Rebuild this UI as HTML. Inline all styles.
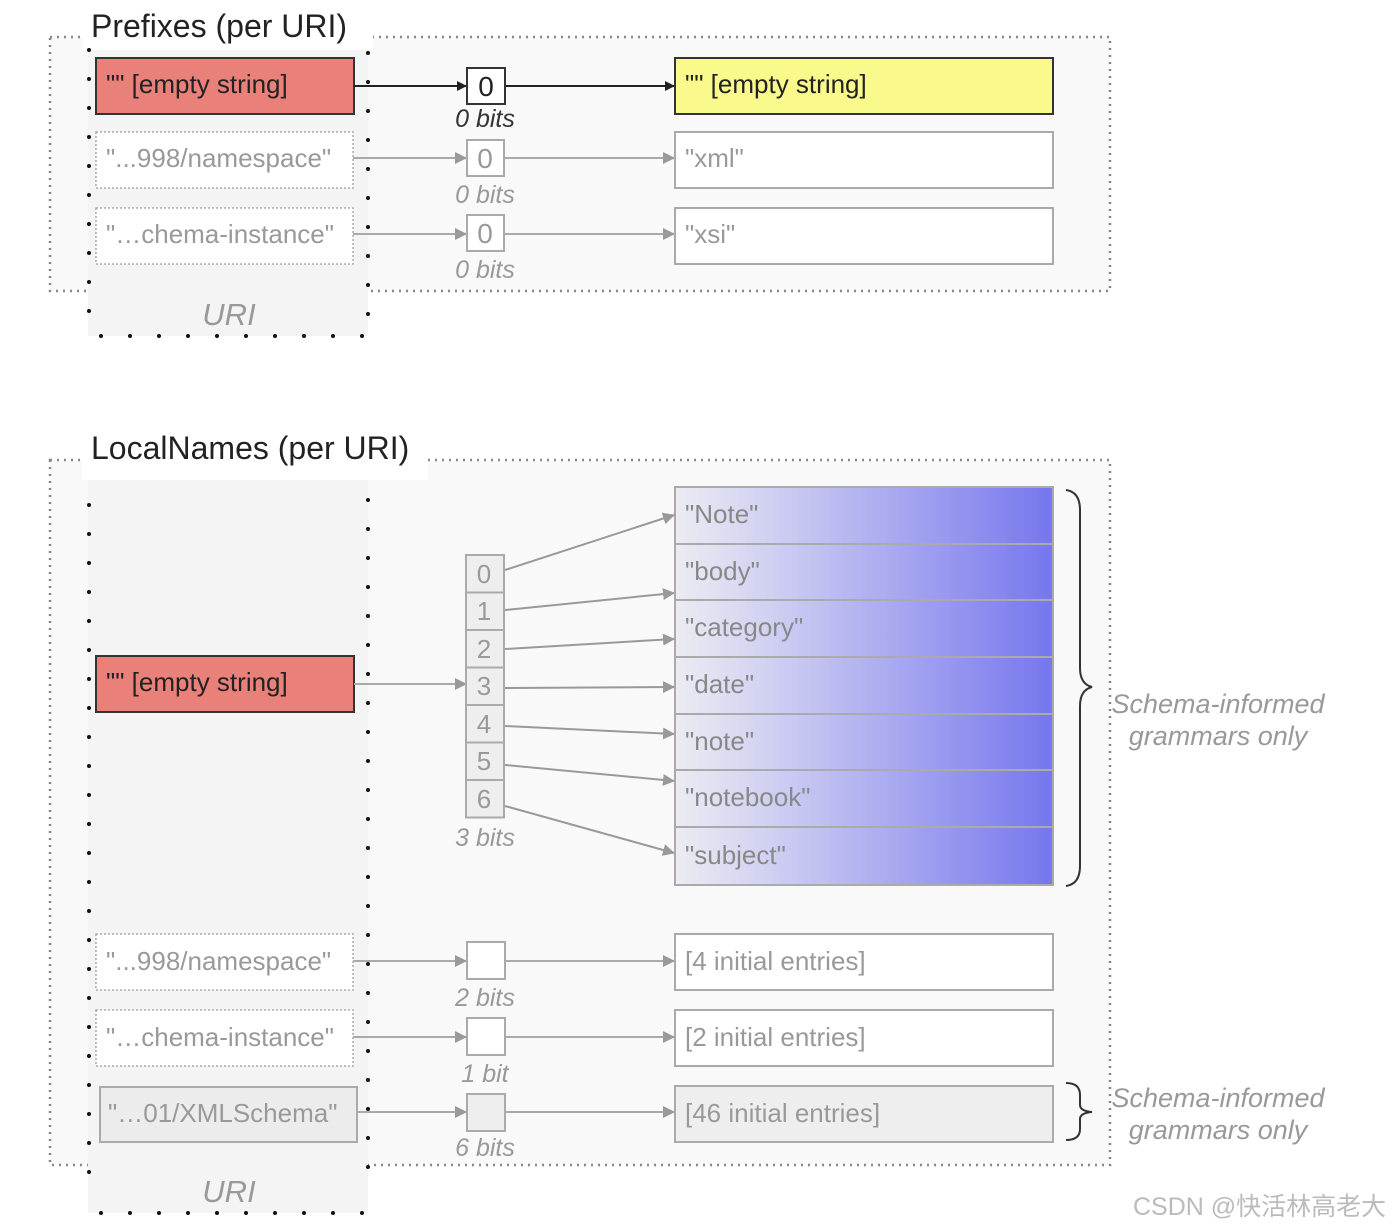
<!DOCTYPE html>
<html><head><meta charset="utf-8"><style>
html,body{margin:0;padding:0;background:#fff;}
svg{display:block;}
text{font-family:"Liberation Sans","Noto Sans CJK SC",sans-serif;}
</style></head><body>
<svg width="1397" height="1230" viewBox="0 0 1397 1230" xmlns="http://www.w3.org/2000/svg">
<defs>
<marker id="ab" markerWidth="10" markerHeight="10" refX="9" refY="5" orient="auto" markerUnits="userSpaceOnUse"><path d="M0,0 L10,5 L0,10 z" fill="#222"/></marker>
<marker id="ag" markerWidth="12" markerHeight="12" refX="11" refY="6" orient="auto" markerUnits="userSpaceOnUse"><path d="M0,0 L12,6 L0,12 z" fill="#999"/></marker>
<linearGradient id="bl" x1="0" x2="1" y1="0" y2="0">
<stop offset="0" stop-color="#ececf2"/><stop offset="0.25" stop-color="#d0d0f2"/><stop offset="1" stop-color="#7676ee"/></linearGradient>
</defs>

<!-- ===== Prefixes ===== -->
<rect x="50" y="37" width="1060" height="254" fill="#f9f9f9" stroke="#888" stroke-width="2.5" stroke-dasharray="2 5"/>
<rect x="83" y="8" width="290" height="42" fill="#fff"/>
<rect x="88" y="50" width="280" height="286" fill="#f4f4f4"/>
<text x="91" y="37" font-size="32" fill="#222">Prefixes (per URI)</text>
<line x1="89" y1="50" x2="89" y2="330" stroke="#111" stroke-width="4" stroke-linecap="round" stroke-dasharray="0 29"/>
<line x1="368" y1="53" x2="368" y2="325" stroke="#111" stroke-width="4" stroke-linecap="round" stroke-dasharray="0 29"/>
<line x1="101" y1="336" x2="365" y2="336" stroke="#111" stroke-width="4" stroke-linecap="round" stroke-dasharray="0 29"/>
<text x="229" y="325" font-size="31" font-style="italic" fill="#999" text-anchor="middle">URI</text>

<rect x="96" y="58" width="258" height="56" fill="#e98079" stroke="#333" stroke-width="2"/>
<text x="106" y="93" font-size="26" fill="#222">"" [empty string]</text>
<rect x="96" y="132" width="257" height="56" fill="#fff" stroke="#aaa" stroke-width="1.5" stroke-dasharray="2 2"/>
<text x="106" y="167" font-size="26" fill="#999">"...998/namespace"</text>
<rect x="96" y="208" width="257" height="56" fill="#fff" stroke="#aaa" stroke-width="1.5" stroke-dasharray="2 2"/>
<text x="106" y="243" font-size="26" fill="#999">"…chema-instance"</text>

<line x1="354" y1="86" x2="466" y2="86" stroke="#222" stroke-width="2" marker-end="url(#ab)"/>
<line x1="505" y1="86" x2="674" y2="86" stroke="#222" stroke-width="2" marker-end="url(#ab)"/>
<line x1="353" y1="158" x2="466" y2="158" stroke="#aaa" stroke-width="2" marker-end="url(#ag)"/>
<line x1="504" y1="158" x2="674" y2="158" stroke="#aaa" stroke-width="2" marker-end="url(#ag)"/>
<line x1="353" y1="234" x2="466" y2="234" stroke="#aaa" stroke-width="2" marker-end="url(#ag)"/>
<line x1="504" y1="234" x2="674" y2="234" stroke="#aaa" stroke-width="2" marker-end="url(#ag)"/>

<rect x="467" y="68" width="38" height="36" fill="#fff" stroke="#333" stroke-width="2"/>
<text x="486" y="96" font-size="28" fill="#222" text-anchor="middle">0</text>
<text x="485" y="127" font-size="25" font-style="italic" fill="#333" text-anchor="middle">0 bits</text>
<rect x="467" y="140" width="37" height="36" fill="#fff" stroke="#aaa" stroke-width="2"/>
<text x="485" y="168" font-size="28" fill="#999" text-anchor="middle">0</text>
<text x="485" y="203" font-size="25" font-style="italic" fill="#999" text-anchor="middle">0 bits</text>
<rect x="467" y="215" width="37" height="36" fill="#fff" stroke="#aaa" stroke-width="2"/>
<text x="485" y="243" font-size="28" fill="#999" text-anchor="middle">0</text>
<text x="485" y="278" font-size="25" font-style="italic" fill="#999" text-anchor="middle">0 bits</text>

<rect x="675" y="58" width="378" height="56" fill="#fafa8c" stroke="#333" stroke-width="2"/>
<text x="685" y="93" font-size="26" fill="#222">"" [empty string]</text>
<rect x="675" y="132" width="378" height="56" fill="#fff" stroke="#aaa" stroke-width="2"/>
<text x="685" y="167" font-size="26" fill="#999">"xml"</text>
<rect x="675" y="208" width="378" height="56" fill="#fff" stroke="#aaa" stroke-width="2"/>
<text x="685" y="243" font-size="26" fill="#999">"xsi"</text>

<!-- ===== LocalNames ===== -->
<rect x="50" y="460" width="1060" height="705" fill="#f9f9f9" stroke="#888" stroke-width="2.5" stroke-dasharray="2 5"/>
<rect x="82" y="428" width="346" height="52" fill="#fff"/>
<rect x="88" y="480" width="280" height="733" fill="#f4f4f4"/>
<text x="91" y="459" font-size="32" fill="#222">LocalNames (per URI)</text>
<line x1="89" y1="505" x2="89" y2="1200" stroke="#111" stroke-width="4" stroke-linecap="round" stroke-dasharray="0 29"/>
<line x1="368" y1="500" x2="368" y2="1195" stroke="#111" stroke-width="4" stroke-linecap="round" stroke-dasharray="0 29"/>
<line x1="101" y1="1213" x2="365" y2="1213" stroke="#111" stroke-width="4" stroke-linecap="round" stroke-dasharray="0 29"/>
<text x="229" y="1202" font-size="31" font-style="italic" fill="#999" text-anchor="middle">URI</text>

<rect x="96" y="656" width="258" height="56" fill="#e98079" stroke="#333" stroke-width="2"/>
<text x="106" y="691" font-size="26" fill="#222">"" [empty string]</text>
<line x1="354" y1="684" x2="466" y2="684" stroke="#aaa" stroke-width="2" marker-end="url(#ag)"/>

<g fill="#eee" stroke="#aaa" stroke-width="2">
<rect x="466" y="555" width="38" height="37.5"/><rect x="466" y="592.5" width="38" height="37.5"/>
<rect x="466" y="630" width="38" height="37.5"/><rect x="466" y="667.5" width="38" height="37.5"/>
<rect x="466" y="705" width="38" height="37.5"/><rect x="466" y="742.5" width="38" height="37.5"/>
<rect x="466" y="780" width="38" height="37.5"/>
</g>
<g font-size="26" fill="#999" text-anchor="middle">
<text x="484" y="583">0</text><text x="484" y="620">1</text><text x="484" y="658">2</text>
<text x="484" y="695">3</text><text x="484" y="733">4</text><text x="484" y="770">5</text><text x="484" y="808">6</text>
</g>
<text x="485" y="846" font-size="25" font-style="italic" fill="#999" text-anchor="middle">3 bits</text>

<rect x="675" y="487" width="378" height="398" fill="url(#bl)"/>
<g fill="none" stroke="#aaa" stroke-width="2">
<rect x="675" y="487" width="378" height="57"/><rect x="675" y="544" width="378" height="56"/>
<rect x="675" y="600" width="378" height="57"/><rect x="675" y="657" width="378" height="57"/>
<rect x="675" y="714" width="378" height="56"/><rect x="675" y="770" width="378" height="57"/>
<rect x="675" y="827" width="378" height="58"/>
</g>
<g font-size="26" fill="#888">
<text x="685" y="523">"Note"</text><text x="685" y="580">"body"</text><text x="685" y="636">"category"</text>
<text x="685" y="693">"date"</text><text x="685" y="750">"note"</text><text x="685" y="806">"notebook"</text>
<text x="685" y="864">"subject"</text>
</g>
<g stroke="#999" stroke-width="2" marker-end="url(#ag)">
<line x1="505" y1="570" x2="674" y2="515"/>
<line x1="505" y1="610" x2="674" y2="593"/>
<line x1="505" y1="649" x2="674" y2="639"/>
<line x1="505" y1="688" x2="674" y2="687"/>
<line x1="505" y1="726" x2="674" y2="734"/>
<line x1="505" y1="765" x2="674" y2="781"/>
<line x1="505" y1="806" x2="674" y2="853"/>
</g>
<path d="M1066,490 Q1080,492 1080,510 L1080,668 Q1080,684 1092,687 Q1080,690 1080,706 L1080,866 Q1080,884 1066,886" fill="none" stroke="#333" stroke-width="2"/>
<g font-size="27" font-style="italic" fill="#999" text-anchor="middle">
<text x="1218" y="713">Schema-informed</text><text x="1218" y="745">grammars only</text>
<text x="1218" y="1107">Schema-informed</text><text x="1218" y="1139">grammars only</text>
</g>

<rect x="96" y="934" width="257" height="56" fill="#fff" stroke="#aaa" stroke-width="1.5" stroke-dasharray="2 2"/>
<text x="106" y="970" font-size="26" fill="#999">"...998/namespace"</text>
<rect x="96" y="1010" width="257" height="56" fill="#fff" stroke="#aaa" stroke-width="1.5" stroke-dasharray="2 2"/>
<text x="106" y="1046" font-size="26" fill="#999">"…chema-instance"</text>
<rect x="100" y="1087" width="257" height="55" fill="#ececec" stroke="#aaa" stroke-width="2"/>
<text x="108" y="1122" font-size="26" fill="#999">"…01/XMLSchema"</text>

<g stroke="#aaa" stroke-width="2" marker-end="url(#ag)">
<line x1="353" y1="961" x2="466" y2="961"/><line x1="505" y1="961" x2="674" y2="961"/>
<line x1="353" y1="1037" x2="466" y2="1037"/><line x1="505" y1="1037" x2="674" y2="1037"/>
<line x1="357" y1="1112" x2="466" y2="1112"/><line x1="505" y1="1112" x2="674" y2="1112"/>
</g>
<rect x="467" y="942" width="38" height="37" fill="#fff" stroke="#aaa" stroke-width="2"/>
<rect x="467" y="1018" width="38" height="37" fill="#fff" stroke="#aaa" stroke-width="2"/>
<rect x="467" y="1094" width="38" height="37" fill="#eee" stroke="#aaa" stroke-width="2"/>
<g font-size="25" font-style="italic" fill="#999" text-anchor="middle">
<text x="485" y="1006">2 bits</text><text x="485" y="1082">1 bit</text><text x="485" y="1156">6 bits</text>
</g>

<rect x="675" y="934" width="378" height="56" fill="#fff" stroke="#aaa" stroke-width="2"/>
<text x="685" y="970" font-size="26" fill="#999">[4 initial entries]</text>
<rect x="675" y="1010" width="378" height="56" fill="#fff" stroke="#aaa" stroke-width="2"/>
<text x="685" y="1046" font-size="26" fill="#999">[2 initial entries]</text>
<rect x="675" y="1086" width="378" height="56" fill="#eee" stroke="#aaa" stroke-width="2"/>
<text x="685" y="1122" font-size="26" fill="#999">[46 initial entries]</text>
<path d="M1066,1083 Q1080,1083 1080,1095 L1080,1105 Q1080,1111 1092,1112 Q1080,1113 1080,1119 L1080,1129 Q1080,1140 1066,1140" fill="none" stroke="#333" stroke-width="2"/>

<text x="1133" y="1215" font-size="25" fill="#bbb">CSDN @快活林高老大</text>
</svg>
</body></html>
